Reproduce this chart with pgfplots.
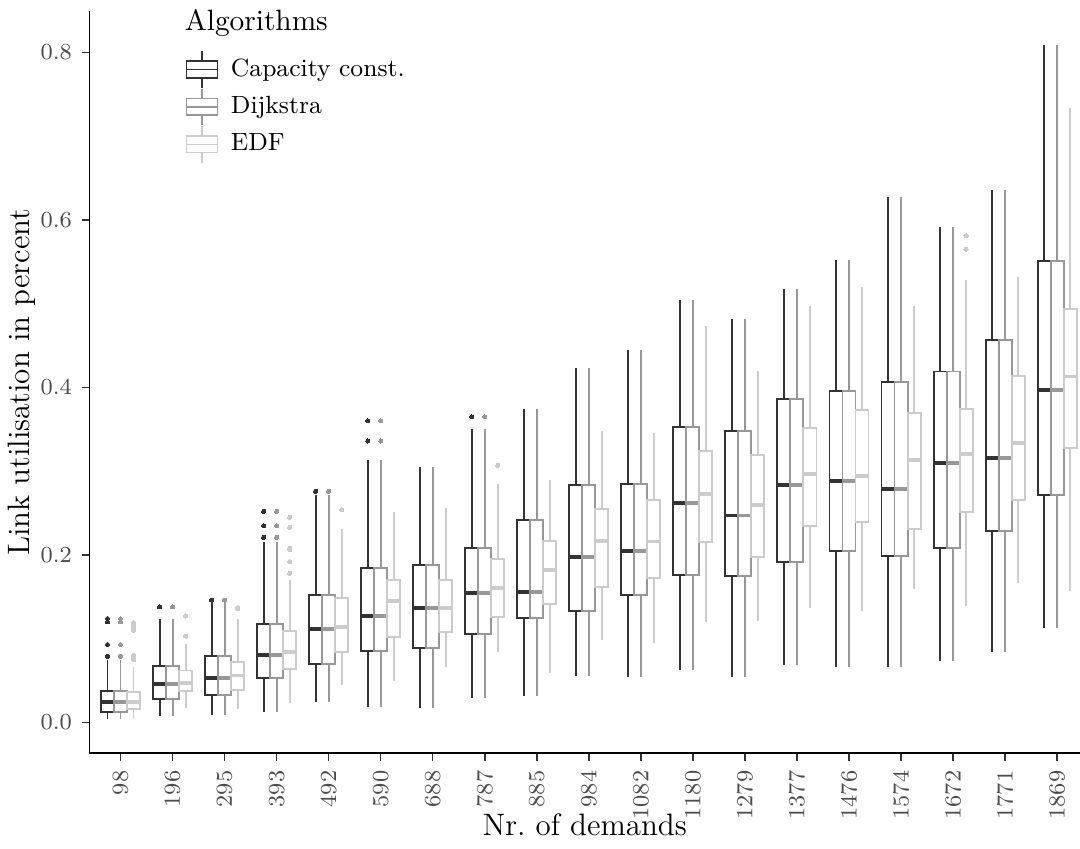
\documentclass[border=0pt]{standalone}
\usepackage{pgfplots}
\pgfplotsset{compat=1.18}
\usepgfplotslibrary{statistics}
\definecolor{cA}{HTML}{333333}
\definecolor{cB}{HTML}{989898}
\definecolor{cC}{HTML}{CCCCCC}
\definecolor{tickgrey}{HTML}{4D4D4D}
% color, position, lower whisker, lower quartile, median, upper quartile, upper whisker, outliers
\newcommand{\bx}[8]{%
\addplot[forget plot, #1, solid, line width=0.7pt, mark=*, mark size=0.75pt,
  mark options={fill=#1, draw=#1, line width=0pt},
  boxplot/draw direction=y,
  boxplot/box extend=0.25, boxplot/whisker extend=0,
  boxplot/every box/.style={fill=white, draw=#1},
  boxplot/every median/.style={line width=1.4pt},
  boxplot prepared={draw position=#2, lower whisker=#3, lower quartile=#4,
    median=#5, upper quartile=#6, upper whisker=#7}] coordinates {#8};}
\newcommand{\legbox}[1]{\addlegendimage{legend image code/.code={%
  \draw[#1, line width=0.6pt] (0pt,-3pt) rectangle (11.2pt,3pt) (0pt,0pt)--(11.2pt,0pt)
  (5.6pt,3pt)--(5.6pt,6.6pt) (5.6pt,-3pt)--(5.6pt,-6.6pt);}}}
\begin{document}
\begin{tikzpicture}
\useasboundingbox (-32.25pt,-34.3pt) rectangle (357.8pt,272pt);
\begin{axis}[
  at={(0,0)}, anchor=south west,
  scale only axis, width=357.8pt, height=267.9pt,
  xmin=-0.6, xmax=18.44, ymin=-0.0367, ymax=0.849,
  axis lines*=left,
  axis line style={black, line width=0.55pt},
  xtick={0,...,18},
  xticklabels={98,196,295,393,492,590,688,787,885,984,1082,1180,1279,1377,1476,1574,1672,1771,1869},
  ytick={0,0.2,0.4,0.6,0.8},
  yticklabels={0.0,0.2,0.4,0.6,0.8},
  tick align=outside, major tick length=2.8pt,
  tick style={cA, line width=0.55pt},
  tick label style={font=\fontsize{8.3}{10}\selectfont, text=tickgrey},
  x tick label style={rotate=90, anchor=east},
  xlabel={Nr.\ of demands},
  ylabel={Link utilisation in percent},
  label style={font=\fontsize{11.2}{13}\selectfont, text=black},
  xlabel style={at={(axis description cs:0.5,-0.097)}, anchor=center},
  ylabel style={at={(axis description cs:-0.068,0.5)}, anchor=center, rotate=0},
  legend style={at={(rel axis cs:0.0966,0.948)}, anchor=north west, draw=none, fill=none,
    font=\fontsize{9}{11}\selectfont, inner sep=0pt, row sep=-0.3pt,
    nodes={inner sep=1.8pt},
    /tikz/every odd column/.append style={column sep=2.8pt}},
  legend cell align=left,
  clip=false,
]
\legbox{cA}\addlegendentry{Capacity const.}
\legbox{cB}\addlegendentry{Dijkstra}
\legbox{cC}\addlegendentry{EDF}
\node[anchor=base west, font=\fontsize{10.6}{12}\selectfont, inner sep=0pt] at (rel axis cs:0.0959,0.974) {Algorithms};

% 98
\bx{cA}{-0.25}{0.004}{0.012}{0.024}{0.038}{0.074}{(0,0.079)(0,0.093)(0,0.120)(0,0.124)}
\bx{cB}{0}{0.004}{0.012}{0.024}{0.038}{0.074}{(0,0.079)(0,0.093)(0,0.120)(0,0.124)}
\bx{cC}{0.25}{0.004}{0.016}{0.024}{0.036}{0.066}{(0,0.075)(0,0.078)(0,0.080)(0,0.110)(0,0.113)(0,0.116)(0,0.119)}
% 196
\bx{cA}{0.75}{0.008}{0.028}{0.046}{0.067}{0.123}{(1,0.138)}
\bx{cB}{1}{0.008}{0.028}{0.046}{0.067}{0.123}{(1,0.138)}
\bx{cC}{1.25}{0.017}{0.037}{0.047}{0.062}{0.094}{(1,0.103)(1,0.127)}
% 295
\bx{cA}{1.75}{0.009}{0.033}{0.053}{0.079}{0.142}{(2,0.146)}
\bx{cB}{2}{0.009}{0.033}{0.053}{0.079}{0.142}{(2,0.146)}
\bx{cC}{2.25}{0.016}{0.039}{0.056}{0.072}{0.124}{(2,0.136)(2,0.137)}
% 393
\bx{cA}{2.75}{0.012}{0.053}{0.081}{0.118}{0.215}{(3,0.221)(3,0.235)(3,0.252)}
\bx{cB}{3}{0.012}{0.053}{0.081}{0.118}{0.215}{(3,0.221)(3,0.235)(3,0.252)}
\bx{cC}{3.25}{0.023}{0.064}{0.084}{0.109}{0.170}{(3,0.178)(3,0.192)(3,0.206)(3,0.208)(3,0.233)(3,0.245)}
% 492
\bx{cA}{3.75}{0.024}{0.070}{0.112}{0.152}{0.271}{(4,0.276)}
\bx{cB}{4}{0.024}{0.070}{0.112}{0.152}{0.271}{(4,0.276)}
\bx{cC}{4.25}{0.045}{0.084}{0.114}{0.149}{0.231}{(4,0.254)}
% 590
\bx{cA}{4.75}{0.019}{0.085}{0.127}{0.184}{0.313}{(5,0.336)(5,0.360)}
\bx{cB}{5}{0.019}{0.085}{0.127}{0.184}{0.313}{(5,0.336)(5,0.360)}
\bx{cC}{5.25}{0.049}{0.102}{0.145}{0.170}{0.251}{}
% 688
\bx{cA}{5.75}{0.017}{0.089}{0.137}{0.188}{0.305}{}
\bx{cB}{6}{0.017}{0.089}{0.137}{0.188}{0.305}{}
\bx{cC}{6.25}{0.066}{0.108}{0.137}{0.170}{0.256}{}
% 787
\bx{cA}{6.75}{0.029}{0.106}{0.155}{0.208}{0.350}{(7,0.365)}
\bx{cB}{7}{0.029}{0.106}{0.155}{0.208}{0.350}{(7,0.365)}
\bx{cC}{7.25}{0.084}{0.126}{0.160}{0.195}{0.285}{(7,0.307)}
% 885
\bx{cA}{7.75}{0.031}{0.125}{0.156}{0.242}{0.374}{}
\bx{cB}{8}{0.031}{0.125}{0.156}{0.242}{0.374}{}
\bx{cC}{8.25}{0.059}{0.141}{0.182}{0.217}{0.290}{}
% 984
\bx{cA}{8.75}{0.055}{0.133}{0.198}{0.283}{0.423}{}
\bx{cB}{9}{0.055}{0.133}{0.198}{0.283}{0.423}{}
\bx{cC}{9.25}{0.098}{0.162}{0.217}{0.255}{0.348}{}
% 1082
\bx{cA}{9.75}{0.054}{0.152}{0.205}{0.285}{0.445}{}
\bx{cB}{10}{0.054}{0.152}{0.205}{0.285}{0.445}{}
\bx{cC}{10.25}{0.095}{0.172}{0.216}{0.265}{0.346}{}
% 1180
\bx{cA}{10.75}{0.062}{0.176}{0.262}{0.353}{0.504}{}
\bx{cB}{11}{0.062}{0.176}{0.262}{0.353}{0.504}{}
\bx{cC}{11.25}{0.120}{0.215}{0.273}{0.324}{0.473}{}
% 1279
\bx{cA}{11.75}{0.054}{0.175}{0.247}{0.348}{0.482}{}
\bx{cB}{12}{0.054}{0.175}{0.247}{0.348}{0.482}{}
\bx{cC}{12.25}{0.121}{0.197}{0.260}{0.319}{0.420}{}
% 1377
\bx{cA}{12.75}{0.068}{0.191}{0.283}{0.386}{0.517}{}
\bx{cB}{13}{0.068}{0.191}{0.283}{0.386}{0.517}{}
\bx{cC}{13.25}{0.137}{0.235}{0.297}{0.351}{0.497}{}
% 1476
\bx{cA}{13.75}{0.066}{0.205}{0.288}{0.396}{0.552}{}
\bx{cB}{14}{0.066}{0.205}{0.288}{0.396}{0.552}{}
\bx{cC}{14.25}{0.133}{0.239}{0.294}{0.373}{0.520}{}
% 1574
\bx{cA}{14.75}{0.066}{0.199}{0.279}{0.406}{0.627}{}
\bx{cB}{15}{0.066}{0.199}{0.279}{0.406}{0.627}{}
\bx{cC}{15.25}{0.159}{0.231}{0.313}{0.369}{0.497}{}
% 1672
\bx{cA}{15.75}{0.073}{0.208}{0.310}{0.419}{0.592}{}
\bx{cB}{16}{0.073}{0.208}{0.310}{0.419}{0.592}{}
\bx{cC}{16.25}{0.139}{0.251}{0.320}{0.374}{0.528}{(16,0.565)(16,0.581)}
% 1771
\bx{cA}{16.75}{0.084}{0.229}{0.316}{0.457}{0.636}{}
\bx{cB}{17}{0.084}{0.229}{0.316}{0.457}{0.636}{}
\bx{cC}{17.25}{0.167}{0.265}{0.334}{0.414}{0.532}{}
% 1869
\bx{cA}{17.75}{0.113}{0.271}{0.397}{0.551}{0.809}{}
\bx{cB}{18}{0.113}{0.271}{0.397}{0.551}{0.809}{}
\bx{cC}{18.25}{0.157}{0.328}{0.413}{0.494}{0.734}{}
\end{axis}
\end{tikzpicture}
\end{document}
